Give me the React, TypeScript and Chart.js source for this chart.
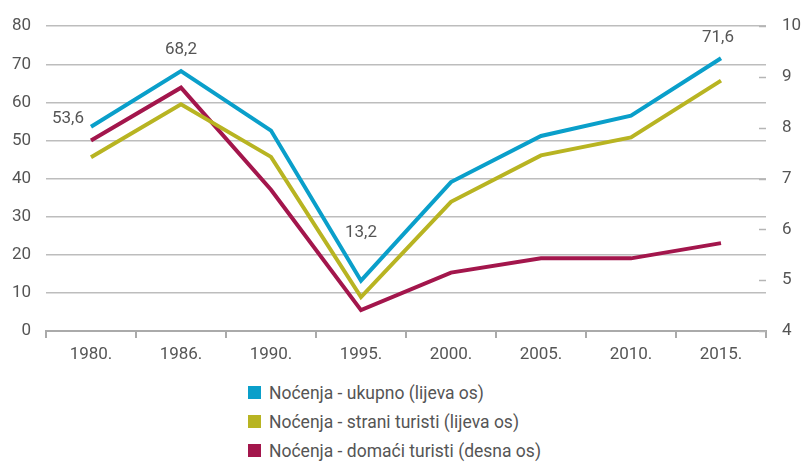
import React, { useEffect, useRef } from "react";
import { Chart, registerables } from "chart.js";

Chart.register(...registerables);

const categories = ["1980.", "1986.", "1990.", "1995.", "2000.", "2005.", "2010.", "2015."];
const ukupno = [53.6, 68.2, 52.6, 13.2, 39.1, 51.2, 56.5, 71.6];
const strani = [45.6, 59.5, 45.7, 8.9, 33.9, 46.1, 50.8, 65.7];
const domaci = [7.75, 8.79, 6.78, 4.41, 5.15, 5.43, 5.43, 5.73];
const leftTicks = [0, 80, 10];
const rightTicks = [4, 10, 1];
const seriesNames = [
  "Noćenja - ukupno (lijeva os)",
  "Noćenja - strani turisti (lijeva os)",
  "Noćenja - domaći turisti (desna os)",
];
const labelledPoints = [0, 1, 3, 7];

const COLORS = ["#0a9fca", "#b8b422", "#a3164c"];
const FONT = "Roboto, 'DejaVu Sans', sans-serif";
const TEXT = "#555555";

const valueLabels = {
  id: "valueLabels",
  afterDatasetsDraw(chart: any) {
    const ctx = chart.ctx;
    const xs = chart.scales.x;
    const ys = chart.scales.y;
    const offsets: Record<number, [number, number]> = { 0: [-23, -8], 1: [0, -21], 3: [0, -48], 7: [-3, -20] };
    ctx.save();
    ctx.font = `17px ${FONT}`;
    ctx.fillStyle = TEXT;
    ctx.textAlign = "center";
    ctx.textBaseline = "middle";
    labelledPoints.forEach((i) => {
      const x = xs.getPixelForValue(i);
      const y = ys.getPixelForValue(ukupno[i]);
      const [dx, dy] = offsets[i];
      ctx.fillText(String(ukupno[i]).replace(".", ","), x + dx, y + dy);
    });
    ctx.restore();
  },
};

const rightTickMarks = {
  id: "rightTickMarks",
  afterDraw(chart: any) {
    const ctx = chart.ctx;
    const s = chart.scales.y1;
    const right = chart.chartArea.right;
    ctx.save();
    ctx.strokeStyle = "#b5b5b5";
    ctx.lineWidth = 1.5;
    for (let v = rightTicks[0]; v <= rightTicks[1]; v += rightTicks[2]) {
      const y = Math.round(s.getPixelForValue(v)) + 0.5;
      ctx.beginPath();
      ctx.moveTo(right - 7, y);
      ctx.lineTo(right, y);
      ctx.stroke();
    }
    ctx.restore();
  },
};

export default function App() {
  const ref = useRef<HTMLCanvasElement | null>(null);
  useEffect(() => {
    document.body.style.margin = "0";
    if (!ref.current) return;
    const chart = new Chart(ref.current, {
      type: "line",
      data: {
        labels: categories,
        datasets: [
          { label: seriesNames[0], data: ukupno, borderColor: COLORS[0], backgroundColor: COLORS[0], yAxisID: "y" },
          { label: seriesNames[1], data: strani, borderColor: COLORS[1], backgroundColor: COLORS[1], yAxisID: "y" },
          { label: seriesNames[2], data: domaci, borderColor: COLORS[2], backgroundColor: COLORS[2], yAxisID: "y1" },
        ].map((d) => ({ ...d, borderWidth: 4, pointRadius: 0, tension: 0, borderJoinStyle: "miter" as const })),
      },
      options: {
        responsive: true,
        maintainAspectRatio: false,
        animation: false,
        layout: { padding: { top: 22, left: 0, right: 0, bottom: 0 } },
        plugins: { legend: { display: false }, tooltip: { enabled: false } },
        scales: {
          x: {
            offset: true,
            grid: { display: true, drawOnChartArea: false, drawTicks: true, tickLength: 7, color: "#aaaaaa", lineWidth: 2, offset: true },
            border: { display: true, color: "#aaaaaa", width: 2 },
            ticks: { color: TEXT, font: { family: FONT, size: 17 }, padding: 7 },
            afterFit(scale: any) { scale.height = 41; },
          },
          y: {
            position: "left",
            min: leftTicks[0],
            max: leftTicks[1],
            ticks: { stepSize: leftTicks[2], color: TEXT, font: { family: FONT, size: 17 }, padding: 15 },
            grid: { color: "#bdbdbd", lineWidth: 1.5, drawTicks: false },
            border: { display: false },
            afterFit(scale: any) { scale.width = 46; },
          },
          y1: {
            position: "right",
            min: rightTicks[0],
            max: rightTicks[1],
            ticks: { stepSize: rightTicks[2], color: TEXT, font: { family: FONT, size: 17 }, padding: 16 },
            grid: { display: false, drawTicks: false },
            border: { display: false },
            afterFit(scale: any) { scale.width = 40; },
          },
        },
      },
      plugins: [valueLabels, rightTickMarks],
    });
    return () => chart.destroy();
  }, []);

  return (
    <div style={{ position: "relative", width: 806, height: 462, fontFamily: FONT }}>
      <div style={{ position: "absolute", left: 0, top: 0, width: 806, height: 372 }}>
        <canvas ref={ref} />
      </div>
      <div style={{ position: "absolute", left: 248, top: 378 }}>
        {seriesNames.map((name, i) => (
          <div key={name} style={{ display: "flex", alignItems: "center", height: 29, color: TEXT, fontSize: 17.5 }}>
            <span style={{ display: "inline-block", width: 13, height: 13, background: COLORS[i], marginRight: 8 }} />
            <span>{name}</span>
          </div>
        ))}
      </div>
    </div>
  );
}
